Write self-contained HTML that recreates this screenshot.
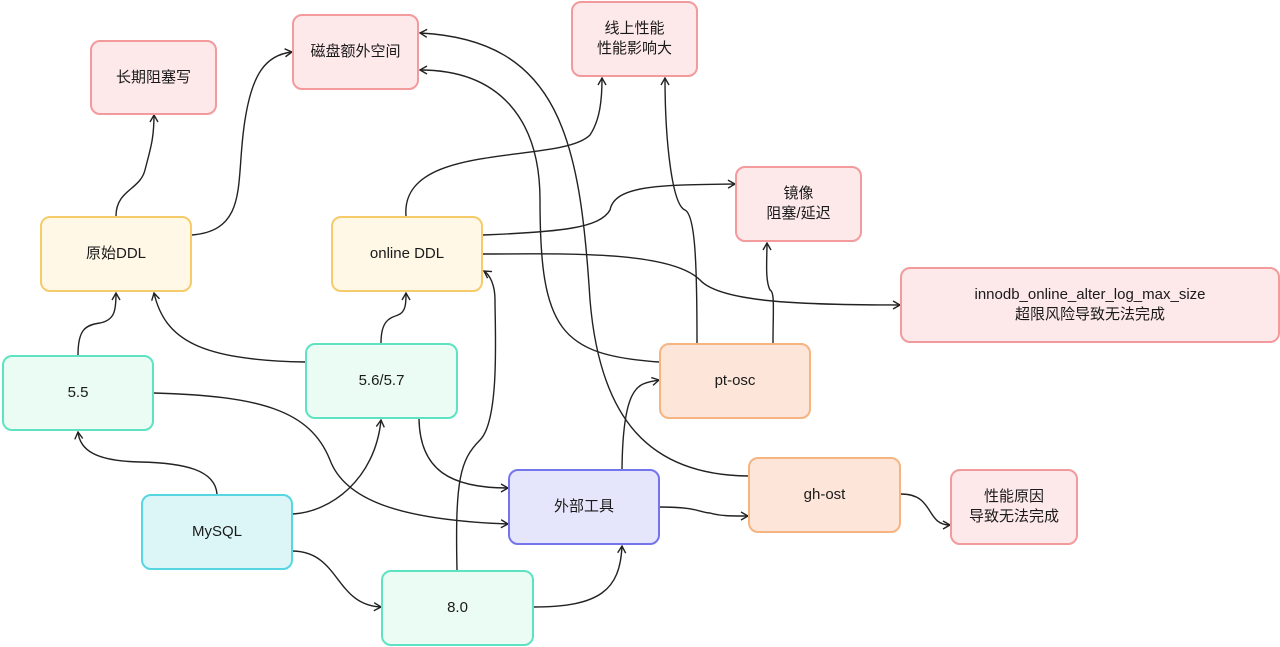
<!DOCTYPE html>
<html><head><meta charset="utf-8"><style>
html,body{margin:0;padding:0;background:#fff;width:1280px;height:647px;overflow:hidden;position:relative}
.n{position:absolute;box-sizing:border-box;border:2.5px solid;border-radius:10px;display:flex;align-items:center;justify-content:center;text-align:center;font-family:"Liberation Sans","Noto Sans CJK SC",sans-serif;font-size:15px;color:#1a1a1a;line-height:20px}
.r{background:#fde8ea;border-color:#f29a9c}
.y{background:#fff8e7;border-color:#f6cb6a}
.g{background:#ebfcf4;border-color:#5ee3c2}
.o{background:#fde6d9;border-color:#f6b480}
.c{background:#dcf6f8;border-color:#55d6e2}
.b{background:#e5e6fc;border-color:#7474ec}
svg{position:absolute;left:0;top:0}
</style></head><body>
<svg width="1280" height="647" viewBox="0 0 1280 647">
<defs><marker id="a" markerWidth="10" markerHeight="10" refX="8" refY="5" orient="auto" markerUnits="userSpaceOnUse"><path d="M1,1 L8,5 L1,9" fill="none" stroke="#222" stroke-width="1.4"/></marker></defs>
<g fill="none" stroke="#222" stroke-width="1.4" marker-end="url(#a)">
<path d="M116,216 C116,190 140,190 145,170 C150,150 154,140 154,115"/>
<path d="M192,235 C250,230 235,180 245,120 C252,75 265,55 292,52"/>
<path d="M406,216 C400,140 560,165 590,135 C600,120 602,100 602,78"/>
<path d="M483,235 C560,232 600,228 610,210 C615,185 660,185 735,184"/>
<path d="M483,254 C560,254 670,250 700,280 C720,302 800,305 900,305"/>
<path d="M78,355 C78,330 85,325 100,323 C115,320 116,310 116,293"/>
<path d="M305,362 C200,360 165,340 154,293"/>
<path d="M381,343 C381,320 390,318 398,315 C406,312 406,303 406,293"/>
<path d="M154,393 C260,396 310,410 330,460 C345,500 400,520 508,524"/>
<path d="M419,419 C420,470 450,488 508,488"/>
<path d="M217,494 C215,470 185,463 140,462 C95,461 80,450 78,432"/>
<path d="M293,514 C330,512 375,480 381,420"/>
<path d="M293,551 C340,552 335,605 381,607"/>
<path d="M457,570 C455,480 460,460 480,440 C500,420 495,330 495,300 C495,285 490,275 484,271"/>
<path d="M533,607 C600,607 620,590 622,546"/>
<path d="M622,469 C623,380 640,384 659,380"/>
<path d="M659,507 C700,507 700,513 710,513 C720,516 730,516 748,516"/>
<path d="M659,362 C560,355 540,330 540,200 C540,120 500,70 420,70"/>
<path d="M748,476 C650,475 600,420 590,300 C580,140 560,40 420,33"/>
<path d="M697,343 C697,260 695,215 685,210 C672,205 665,140 665,78"/>
<path d="M773,343 C773,310 775,292 770,290 C765,280 767,260 767,243"/>
<path d="M901,494 C935,494 925,525 950,525"/>
</g>
</svg>
<div class="n r" style="left:90px;top:40px;width:127px;height:75px">长期阻塞写</div>
<div class="n r" style="left:292px;top:14px;width:127px;height:76px">磁盘额外空间</div>
<div class="n r" style="left:571px;top:1px;width:127px;height:76px">线上性能<br>性能影响大</div>
<div class="n r" style="left:735px;top:166px;width:127px;height:76px">镜像<br>阻塞/延迟</div>
<div class="n r" style="left:900px;top:267px;width:380px;height:76px">innodb_online_alter_log_max_size<br>超限风险导致无法完成</div>
<div class="n y" style="left:40px;top:216px;width:152px;height:76px">原始DDL</div>
<div class="n y" style="left:331px;top:216px;width:152px;height:76px">online DDL</div>
<div class="n g" style="left:2px;top:355px;width:152px;height:76px">5.5</div>
<div class="n g" style="left:305px;top:343px;width:153px;height:76px">5.6/5.7</div>
<div class="n o" style="left:659px;top:343px;width:152px;height:76px">pt-osc</div>
<div class="n o" style="left:748px;top:457px;width:153px;height:76px">gh-ost</div>
<div class="n r" style="left:950px;top:469px;width:128px;height:76px">性能原因<br>导致无法完成</div>
<div class="n c" style="left:141px;top:494px;width:152px;height:76px">MySQL</div>
<div class="n b" style="left:508px;top:469px;width:152px;height:76px">外部工具</div>
<div class="n g" style="left:381px;top:570px;width:153px;height:76px">8.0</div>
</body></html>
